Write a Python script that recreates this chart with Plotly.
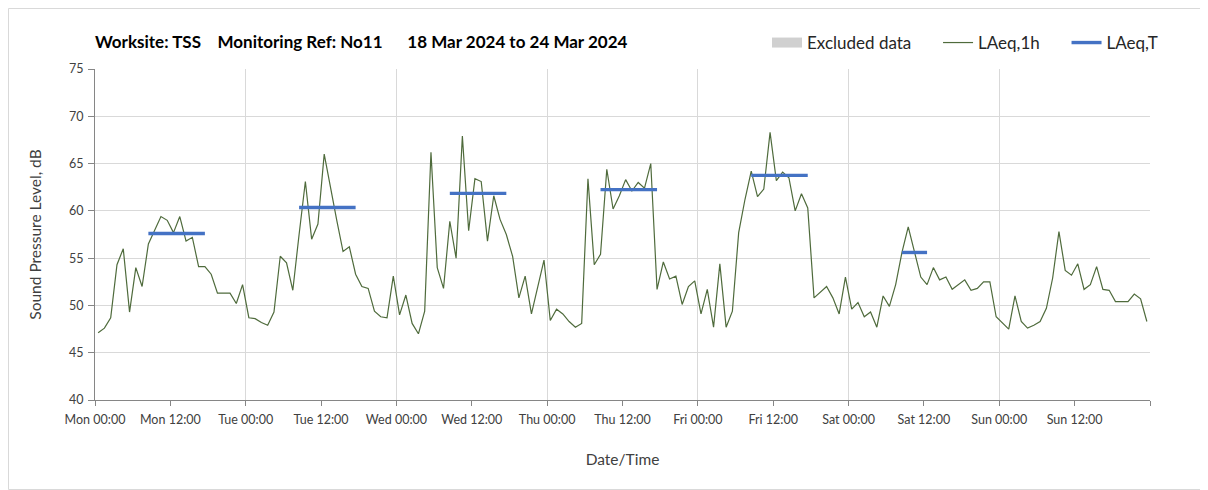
import plotly.graph_objects as go

# ---------------- data ----------------
days = ["Mon", "Tue", "Wed", "Thu", "Fri", "Sat", "Sun"]

laeq_1h_mon = [47.1, 47.6, 48.7, 54.3, 56.0, 49.3, 54.0, 52.0, 56.5, 58.0, 59.4, 59.0,
               57.7, 59.4, 56.8, 57.2, 54.1, 54.1, 53.3, 51.3, 51.3, 51.3, 50.2, 52.2]
laeq_1h_tue = [48.7, 48.6, 48.2, 47.9, 49.3, 55.2, 54.5, 51.6, 57.5, 63.1, 57.0, 58.6,
               66.0, 62.4, 59.0, 55.7, 56.2, 53.3, 52.0, 51.8, 49.4, 48.8, 48.7, 53.1]
laeq_1h_wed = [49.0, 51.1, 48.1, 47.0, 49.4, 66.2, 54.0, 51.8, 58.9, 55.0, 67.9, 57.9,
               63.4, 63.1, 56.8, 61.6, 59.1, 57.5, 55.2, 50.8, 53.1, 49.1, 52.0, 54.8]
laeq_1h_thu = [48.4, 49.6, 49.1, 48.3, 47.7, 48.1, 63.4, 54.3, 55.4, 64.4, 60.2, 61.6,
               63.3, 62.1, 63.0, 62.4, 65.0, 51.7, 54.6, 52.8, 53.1, 50.1, 52.0, 52.6]
laeq_1h_fri = [49.1, 51.7, 47.7, 54.4, 47.7, 49.4, 57.7, 61.2, 64.2, 61.5, 62.3, 68.3,
               63.2, 64.1, 63.5, 60.0, 61.8, 60.3, 50.8, 51.4, 52.0, 50.8, 49.1, 53.0]
laeq_1h_sat = [49.6, 50.3, 48.8, 49.3, 47.7, 51.0, 49.9, 52.2, 55.6, 58.3, 55.8, 53.0,
               52.2, 54.0, 52.7, 53.0, 51.7, 52.2, 52.7, 51.6, 51.8, 52.5, 52.5, 48.8]
laeq_1h_sun = [48.2, 47.5, 51.0, 48.3, 47.6, 47.9, 48.3, 49.7, 52.9, 57.8, 53.7, 53.2,
               54.4, 51.7, 52.2, 54.1, 51.7, 51.6, 50.4, 50.4, 50.4, 51.2, 50.7, 48.3]

# LAeq,T per monitored period (day index, first hour, last hour, level)
laeq_t_day = [0, 1, 2, 3, 4, 5]
laeq_t_start_hour = [8, 8, 8, 8, 8, 8]
laeq_t_end_hour = [17, 17, 17, 17, 17, 12]
laeq_t_value = [57.6, 60.35, 61.85, 62.25, 63.75, 55.6]

major_tick_labels = [f"{d} 00:00" for d in days]
minor_tick_labels = [f"{d} 12:00" for d in days]

title_text = ("Worksite: TSS&nbsp;&nbsp;&nbsp;&nbsp;Monitoring Ref: No11"
              "&nbsp;&nbsp;&nbsp;&nbsp;&nbsp;&nbsp;18 Mar 2024 to 24 Mar 2024")

# ---------------- build ----------------
laeq_1h = (laeq_1h_mon + laeq_1h_tue + laeq_1h_wed + laeq_1h_thu +
           laeq_1h_fri + laeq_1h_sat + laeq_1h_sun)
hours = [h + 0.5 for h in range(len(laeq_1h))]

t_x, t_y = [], []
for d, s, e, v in zip(laeq_t_day, laeq_t_start_hour, laeq_t_end_hour, laeq_t_value):
    t_x += [d * 24 + s + 0.5, d * 24 + e + 0.5, None]
    t_y += [v, v, None]

FONT = "Lato"
W, H = 1200, 482
ML, MR, MT, MB = 87, 58, 61, 90
PW, PH = W - ML - MR, H - MT - MB
GAP = "&nbsp;" * 5
TICKFONT = dict(size=12.5, color="#404040")

fig = go.Figure()

fig.add_trace(go.Scatter(x=[None], y=[None], mode="lines", name="Excluded data" + GAP,
                         line=dict(color="#d0d0d0", width=10)))
fig.add_trace(go.Scatter(x=hours, y=laeq_1h, mode="lines", name="LAeq,1h" + GAP,
                         line=dict(color="#4f6b3c", width=1.2)))
fig.add_trace(go.Scatter(x=t_x, y=t_y, mode="lines", name="LAeq,T",
                         line=dict(color="#4472c4", width=3.4)))

n_days = len(days)
fig.update_layout(
    width=W, height=H,
    margin=dict(l=ML, r=MR, t=MT, b=MB, autoexpand=False),
    paper_bgcolor="white", plot_bgcolor="white",
    font=dict(family=FONT, color="#404040"),
    showlegend=True,
    legend=dict(orientation="h", x=(759 - ML) / PW, xanchor="left",
                y=1 + (MT - 35) / PH, yanchor="middle",
                font=dict(size=17, color="#262626"), itemwidth=30,
                traceorder="normal", bgcolor="rgba(0,0,0,0)"),
    title=dict(text=title_text, x=87 / W, xanchor="left", y=1 - 34 / H, yanchor="middle",
               font=dict(family=FONT, size=17, color="#000000", weight="bold")),
    xaxis=dict(range=[0, 24 * n_days], automargin=False,
               tickvals=[12 + 24 * i for i in range(n_days)], ticktext=minor_tick_labels,
               ticks="outside", ticklen=5, tickcolor="#868686", ticklabelstandoff=3,
               showgrid=False, zeroline=False,
               showline=True, linecolor="#868686", linewidth=1,
               tickfont=TICKFONT,
               title=dict(text="Date/Time", font=dict(size=15.5, color="#404040"), standoff=28)),
    xaxis2=dict(range=[0, 24 * n_days], overlaying="x", side="bottom", anchor="y",
                automargin=False,
                tickvals=[24 * i for i in range(n_days + 1)],
                ticktext=major_tick_labels + [""],
                ticks="outside", ticklen=5, tickcolor="#868686", ticklabelstandoff=3,
                showgrid=True, gridcolor="#d9d9d9", gridwidth=1, zeroline=False,
                showline=False,
                tickfont=TICKFONT),
    yaxis=dict(range=[40, 75], dtick=5, tick0=40, automargin=False,
               ticks="outside", ticklen=6, tickcolor="#868686", ticklabelstandoff=2,
               showgrid=True, gridcolor="#d9d9d9", gridwidth=1, zeroline=False,
               showline=True, linecolor="#868686", linewidth=1,
               tickfont=TICKFONT,
               title=dict(text="Sound Pressure Level, dB",
                          font=dict(size=15.5, color="#404040"), standoff=23)),
)

# invisible trace to activate overlaying axis
fig.add_trace(go.Scatter(x=[None], y=[None], xaxis="x2", showlegend=False,
                         hoverinfo="skip"))

# chart-area border
fig.add_shape(type="rect", xref="paper", yref="paper",
              x0=(0.5 - ML) / PW, x1=(W - 0.5 - ML) / PW,
              y0=-(MB - 0.5) / PH, y1=1 + (MT - 0.5) / PH,
              line=dict(color="#d9d9d9", width=1), fillcolor="rgba(0,0,0,0)", layer="below")

fig.write_html("out.html")
